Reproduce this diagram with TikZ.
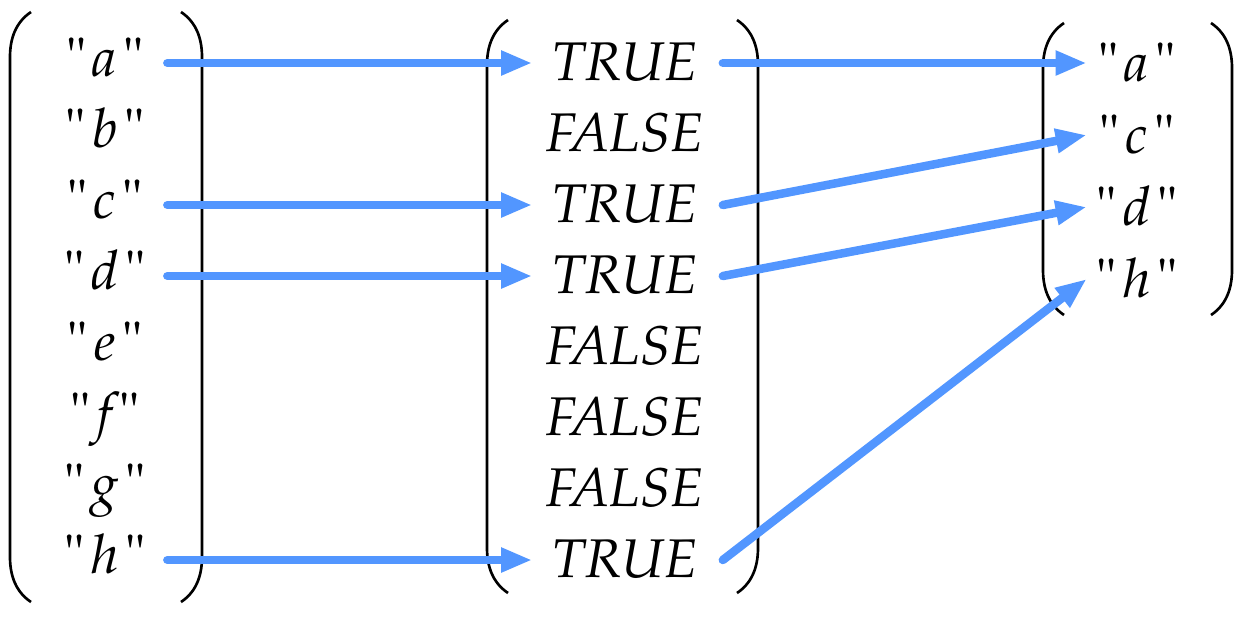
\documentclass[tikz,border=0pt]{standalone}
\usepackage[T1]{fontenc}
\usepackage{mathpazo}
\usetikzlibrary{arrows.meta}
\definecolor{arrowblue}{RGB}{82,150,255}
\tikzset{
  entry/.style={inner sep=0pt, font=\fontsize{31}{37}\selectfont\itshape},
  leftentry/.style={entry, minimum width=2.48cm, text height=22pt, text depth=6.7pt},
  midentry/.style={entry, minimum width=3.78cm, text height=25pt, text depth=5.2pt},
  rightentry/.style={entry, minimum width=2cm, text height=26.5pt, text depth=5pt},
  paren/.style={line width=1.5pt},
  maparrow/.style={arrowblue, line width=0.17cm, line cap=round, -{Triangle[length=0.62cm,width=0.46cm]}}
}
\newcommand{\quoted}[1]{{\upshape\textquotedbl}\hspace{0.12em}#1\hspace{0.12em}{\upshape\textquotedbl}}

\begin{document}
\begin{tikzpicture}[x=0.02cm, y=-0.02cm]
  \useasboundingbox (0,0) rectangle (1250,620);
  % brackets
  \foreach \l/\r/\t/\b in {10/202/12/602, 487/758/20/593, 1043/1232/23/315} {
    \draw[paren] (\l+21,\t) .. controls (\l+6,\t+10) and (\l,\t+26) .. (\l,\t+45) -- (\l,\b-45) .. controls (\l,\b-26) and (\l+6,\b-10) .. (\l+21,\b);
    \draw[paren] (\r-21,\t) .. controls (\r-6,\t+10) and (\r,\t+26) .. (\r,\t+45) -- (\r,\b-45) .. controls (\r,\b-26) and (\r-6,\b-10) .. (\r-21,\b);
  }
  % input strings
  \foreach \s [count=\i] in {a,b,c,d,e,f,g,h}
    \node[leftentry] (in\i) at (105,63+71*\i-71) {\quoted{\s}};
  % mask
  \foreach \v [count=\i] in {TRUE,FALSE,TRUE,TRUE,FALSE,FALSE,FALSE,TRUE}
    \node[midentry] (mask\i) at (625,63+71*\i-71) {\v};
  % selected strings
  \foreach \s [count=\j] in {a,c,d,h}
    \node[rightentry] (out\j) at (1137,63+72*\j-72) {\quoted{\s}};
  % arrows
  \foreach \i in {1,3,4,8}
    \draw[maparrow] (in\i.east) -- ([xshift=0.04cm]mask\i.west);
  \foreach \i/\j in {1/1,3/2,4/3,8/4}
    \draw[maparrow] ([xshift=0.06cm]mask\i.east) -- (out\j.west);
\end{tikzpicture}
\end{document}
